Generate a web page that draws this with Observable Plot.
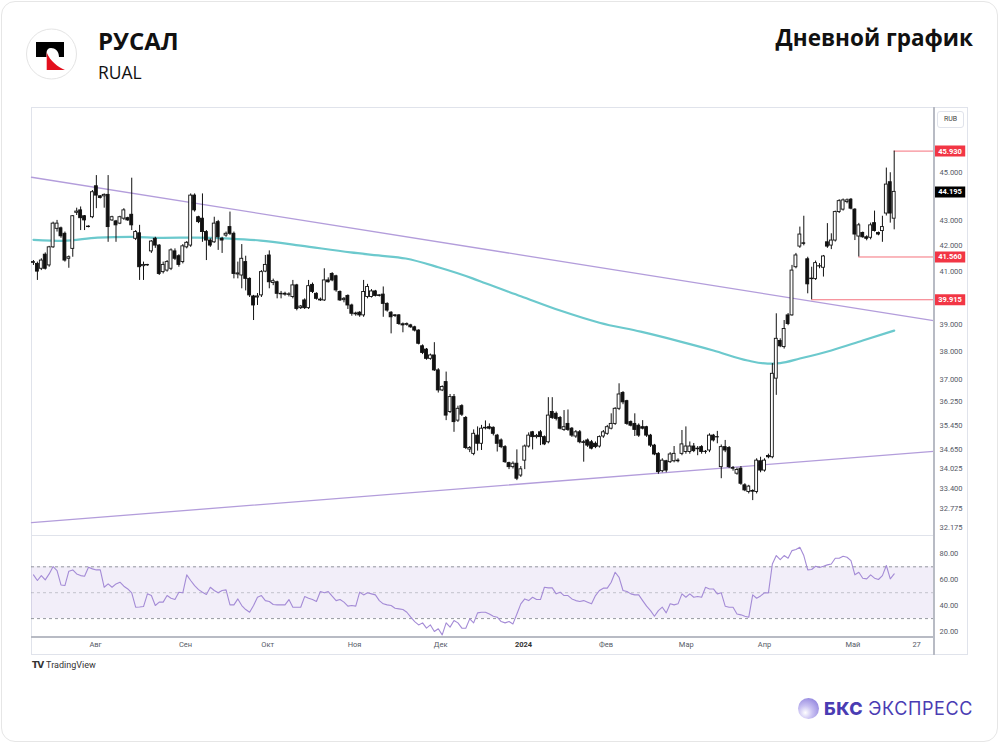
<!DOCTYPE html>
<html><head><meta charset="utf-8">
<script src="https://cdn.jsdelivr.net/npm/d3@7"></script>
<script src="https://cdn.jsdelivr.net/npm/@observablehq/plot@0.6"></script>
<style>
html,body{margin:0;padding:0;background:#fff;}
body{width:1000px;height:744px;position:relative;overflow:hidden;font-family:"Open Sans",sans-serif;}
#card{position:absolute;left:1px;top:1px;width:997px;height:741px;border:1px solid #e6e6e6;border-radius:14px;box-sizing:border-box;}
.abs{position:absolute;}
#title{left:98px;top:25px;font-size:24px;font-weight:700;color:#111;line-height:32px;}
#ticker{left:98px;top:60px;font-size:17.5px;color:#111;line-height:24px;}
#right{right:27px;top:22px;font-size:22.5px;font-weight:700;color:#111;line-height:32px;}
#frame{left:31px;top:107px;width:937px;height:548px;border:1px solid #e0e3eb;box-sizing:border-box;}
#vsep{left:933px;top:107px;width:2px;height:548px;background:#b8bbc4;}
#hsep{left:31px;top:535px;width:904px;height:1px;background:#e0e3eb;}
#tsep{left:31px;top:636px;width:904px;height:2px;background:#b8bbc4;}
#rub{left:937px;top:111px;width:27px;height:17px;border:1px solid #e0e3eb;border-radius:3px;box-sizing:border-box;font:7px Roboto,sans-serif;color:#444;text-align:center;line-height:15px;}
#tv{left:32px;top:659px;font:9px Roboto,sans-serif;color:#333;line-height:12px;}
#tv b{font-family:"DejaVu Sans";font-weight:900;letter-spacing:-1px;margin-right:3px;font-size:9px;}
#bks{left:798px;top:694px;height:28px;display:flex;align-items:center;}
#bks .ball{width:21px;height:21px;border-radius:50%;background:radial-gradient(circle at 35% 70%,#ffffff 0%,#c9c1f2 35%,#7c6ed6 100%);margin-right:5px;}
#bks .t{font-family:Inter,sans-serif;font-size:18px;color:#4a3cb3;letter-spacing:0.6px;}
#bks .t b{font-weight:800;margin-right:5px;}
#main,#rsi{position:absolute;left:31px;}
#main{top:107px;} #rsi{top:536px;}
</style></head>
<body>
<div id="card"></div>
<svg class="abs" style="left:25px;top:28px" width="54" height="54" viewBox="25 28 54 54">
  <circle cx="51.5" cy="54" r="25" fill="#fff" stroke="#e4e4e4" stroke-width="1"/>
  <path d="M36,42 H64 V57 H59 C59,51 55,48 51,48 C48,48 46.5,50 46.5,53 V57 H36 Z" fill="#000"/>
  <path d="M46.7,52.5 V70 H65 C58,67 50,61 46.7,52.5 Z" fill="#e3101e"/>
</svg>
<div id="title" class="abs">РУСАЛ</div>
<div id="ticker" class="abs">RUAL</div>
<div id="right" class="abs">Дневной график</div>
<div id="frame" class="abs"></div>
<div id="main"></div>
<div id="rsi"></div>
<div id="hsep" class="abs"></div>
<div id="tsep" class="abs"></div>
<div id="vsep" class="abs"></div>
<div id="rub" class="abs">RUB</div>
<div id="tv" class="abs"><b>TV</b>TradingView</div>
<div id="bks" class="abs"><div class="ball"></div><div class="t"><b>БКС</b>ЭКСПРЕСС</div></div>
<script>
// ---------- DATA ----------
const opens = [
41.33,41.29,41.10,41.65,41.23,41.94,42.68,42.70,42.48,41.49,
41.88,43.33,43.43,43.19,42.77,43.15,44.43,44.01,44.01,44.07,
43.02,42.98,42.89,43.09,43.11,43.25,42.28,42.50,41.20,41.25,
41.78,42.28,42.01,40.97,41.03,41.10,41.78,41.59,41.36,41.94,
42.01,44.04,43.15,43.09,42.55,42.21,42.14,42.95,42.28,42.41,
42.75,42.48,40.88,40.84,41.36,40.71,40.04,40.00,40.08,40.99,
41.62,40.55,40.58,40.12,40.14,40.10,40.02,40.46,39.60,39.89,
39.60,40.48,40.14,39.92,39.89,40.65,40.90,40.81,40.21,39.90,
40.06,39.70,39.37,39.43,39.33,40.02,40.02,40.23,40.08,40.11,
39.76,39.43,39.33,39.33,39.00,38.98,38.96,38.89,38.77,38.20,
38.08,37.75,37.87,37.34,36.64,36.93,35.90,36.41,35.61,36.10,
35.70,34.65,34.51,35.11,34.84,35.35,35.39,35.37,35.11,34.95,
34.73,34.21,34.08,34.19,33.81,34.29,34.75,35.22,35.06,35.22,
35.06,34.89,35.90,35.84,35.70,35.30,35.50,35.34,35.08,35.22,
34.89,34.95,34.89,34.84,34.75,35.08,35.17,35.34,35.50,36.01,
36.55,36.27,35.56,35.50,35.44,35.39,35.39,35.11,34.78,34.51,
33.95,34.27,34.24,34.27,34.29,34.51,34.57,34.57,34.75,34.68,
34.73,34.58,34.62,35.11,35.06,34.08,34.73,34.70,34.05,33.87,
34.03,33.50,33.29,33.32,33.29,34.27,33.97,34.44,34.40,37.05,
38.39,38.17,39.33,39.33,41.16,41.97,42.10,41.47,40.70,40.70,
41.19,41.14,42.14,42.01,42.21,43.36,43.46,43.77,43.87,43.46,
42.37,42.51,42.34,42.32,42.91,42.51,42.59,43.30,44.60,43.09];
const highs = [
41.42,41.36,41.49,41.72,41.98,42.95,43.02,42.75,42.55,41.60,
43.22,43.52,43.57,43.22,42.80,44.25,44.88,44.04,44.11,44.88,
43.19,43.02,43.19,43.50,43.15,44.77,42.61,42.82,41.36,41.27,
42.21,42.34,42.05,41.36,41.42,41.88,41.88,41.65,42.05,42.17,
44.11,44.11,43.19,44.11,42.61,42.28,43.15,43.02,42.34,42.55,
43.36,42.55,41.36,42.05,41.59,40.75,40.08,40.15,41.03,41.62,
41.80,40.70,40.62,40.23,40.20,40.18,40.65,40.50,39.70,39.95,
40.65,40.55,40.18,39.98,41.10,40.75,40.95,40.85,40.25,40.00,
40.10,39.75,39.45,39.47,40.65,40.50,40.30,40.27,40.10,40.40,
39.80,39.47,39.36,39.36,39.05,39.05,39.00,38.93,38.80,38.25,
38.12,37.92,38.33,37.40,36.80,37.28,36.50,36.50,36.10,36.15,
35.75,34.75,35.30,35.40,35.45,35.60,35.50,35.40,35.15,35.00,
34.78,34.24,34.25,34.64,34.10,34.80,35.20,35.25,35.15,35.28,
35.10,36.39,36.39,35.90,35.75,35.95,35.97,35.38,35.28,35.28,
34.95,35.00,34.95,34.90,35.10,35.28,35.45,35.84,36.05,36.87,
36.60,36.30,35.60,35.84,35.50,35.61,35.42,35.15,34.82,34.55,
34.35,34.30,34.55,34.75,34.35,35.28,35.40,34.90,34.85,34.75,
34.78,34.62,35.17,35.15,35.25,34.80,34.95,34.75,34.10,34.05,
34.10,33.55,33.50,33.36,34.35,34.40,34.35,34.50,37.58,39.39,
38.47,39.14,39.40,41.23,41.70,42.75,43.19,41.55,41.16,41.40,
41.30,41.62,42.89,42.48,43.40,43.87,43.90,43.90,43.92,43.50,
42.90,42.55,42.40,42.91,43.40,42.55,43.19,45.20,45.00,45.93];
const lows = [
41.23,40.65,41.03,41.05,41.16,41.90,42.55,42.30,41.36,41.12,
41.55,43.22,42.61,42.61,42.72,43.09,43.50,43.90,43.52,42.14,
42.98,42.14,42.85,43.02,42.98,42.61,42.21,40.65,40.65,41.20,
41.70,41.90,40.84,40.90,40.97,41.03,41.42,41.16,41.29,41.88,
41.94,43.36,42.89,42.14,41.42,41.94,42.10,41.82,41.70,42.34,
42.41,40.71,40.71,40.33,40.25,40.00,39.14,39.70,40.00,40.95,
40.33,40.45,39.95,39.95,40.05,40.02,39.95,39.50,39.55,39.55,
39.55,40.15,39.90,39.85,39.85,40.55,40.60,40.20,39.85,39.80,
39.55,39.30,39.30,39.26,39.26,39.95,39.98,40.02,40.02,39.26,
39.45,38.65,39.25,38.96,38.69,38.93,38.85,38.72,38.25,37.90,
37.70,37.70,37.30,36.55,36.60,35.61,35.85,35.22,35.55,35.75,
34.65,34.55,34.45,34.60,34.62,35.30,35.30,35.10,34.57,34.68,
34.20,34.00,34.02,33.65,33.75,34.00,34.70,34.64,35.00,34.78,
34.78,34.84,35.65,35.60,35.30,35.25,35.25,35.05,35.02,34.84,
34.24,34.72,34.64,34.68,34.70,35.02,35.12,35.30,35.45,35.95,
36.15,35.45,35.40,35.08,35.05,35.30,35.05,34.72,34.45,33.85,
33.90,33.90,34.20,34.22,34.22,34.45,34.50,34.50,34.55,34.45,
34.50,34.50,34.55,34.90,34.84,33.71,34.55,34.03,33.95,33.82,
33.50,33.30,33.23,33.02,33.23,33.90,33.92,34.35,34.35,36.47,
38.15,38.10,38.95,39.30,41.10,41.90,42.00,40.14,39.915,40.65,
41.10,40.78,41.90,41.85,42.15,43.30,43.40,43.70,43.45,42.21,
41.56,42.30,42.20,42.24,42.55,42.40,42.14,43.20,42.91,42.64];
const closes = [
41.36,40.99,41.42,41.10,41.94,42.89,42.89,42.38,41.42,41.55,
43.19,43.38,43.11,43.02,42.75,44.18,44.04,43.94,44.07,42.75,
43.15,42.82,43.15,43.43,43.02,42.82,42.55,41.16,41.25,41.23,
42.17,42.01,40.90,41.25,41.36,41.82,41.49,41.25,41.98,42.12,
44.04,43.43,42.95,42.55,42.21,42.01,42.89,42.34,42.21,42.48,
42.48,40.90,40.92,41.49,40.71,40.08,39.70,40.04,40.97,41.25,
40.58,40.62,40.14,40.14,40.11,40.12,40.46,39.57,39.66,39.60,
40.43,40.21,39.95,39.89,40.65,40.58,40.65,40.27,39.89,39.95,
39.70,39.39,39.40,39.33,40.21,40.40,40.23,40.06,40.06,39.76,
39.51,39.26,39.31,39.01,38.96,39.01,38.89,38.77,38.29,37.96,
37.75,37.87,37.34,36.64,36.76,35.78,36.41,35.56,36.01,35.81,
34.70,34.70,35.17,34.84,35.34,35.37,35.34,35.17,34.84,34.73,
34.24,34.08,34.19,33.71,34.01,34.75,35.11,35.06,35.10,35.06,
34.82,35.78,35.70,35.67,35.34,35.39,35.30,35.11,35.22,34.89,
34.87,34.78,34.68,34.73,35.06,35.22,35.39,35.50,36.01,36.50,
36.23,35.50,35.44,35.30,35.11,35.34,35.11,34.78,34.49,33.92,
34.29,33.97,34.49,34.51,34.27,34.82,34.75,34.75,34.60,34.66,
34.57,34.57,35.11,34.95,35.05,34.73,34.62,34.08,34.03,33.99,
33.55,33.34,33.46,33.30,34.29,33.97,34.29,34.40,37.22,38.47,
38.20,38.83,39.01,41.03,41.62,42.45,42.08,40.50,40.72,41.32,
41.20,41.58,41.97,42.21,43.36,43.81,43.84,43.84,43.50,42.45,
42.82,42.34,42.28,42.82,42.59,42.45,42.75,44.50,43.30,44.195];

// moving average (read at sample bars)
const smaIdx = [1,8.6,17.3,25.7,34,42.7,51,58.8,69,81.7,88.8,95.7,104,112.7,116,125,135,145,155.5,165.6,174,182.7,187.8,191,196,204,212,220];
const smaVal = [42.24,42.20,42.33,42.36,42.32,42.33,42.29,42.21,42.01,41.74,41.62,41.50,41.16,40.73,40.54,40.05,39.51,39.06,38.73,38.37,38.05,37.69,37.58,37.60,37.76,38.05,38.41,38.77];

// trend lines (bar index, price)
const trendIdx = [0.5, 230];
const upperTrend = [44.81, 39.14];
const lowerTrend = [32.34, 34.59];

// horizontal levels
const levelValues = [45.93, 41.56, 39.915];
const levelStart = [220, 211, 199];

// RSI
const rsiValues = [
63.8,59.4,63.2,59.9,64.5,70.2,67.1,56.0,55.5,66.6,
67.6,64.5,63.2,62.7,69.7,68.4,67.6,67.6,54.2,56.8,
54.2,56.8,58.1,55.0,52.9,49.9,38.8,39.0,39.3,49.1,
47.8,40.1,42.7,42.7,47.8,45.7,44.7,50.4,49.9,63.8,
59.4,55.5,52.4,50.4,48.6,54.2,51.7,49.9,51.7,52.2,
40.6,40.6,45.2,40.1,37.0,34.9,40.1,46.5,47.8,43.9,
43.2,40.9,40.6,40.6,40.6,44.7,38.8,38.8,38.8,47.0,
45.7,44.7,43.2,50.9,49.9,50.9,47.3,43.9,44.7,42.7,
39.6,40.1,39.6,50.4,48.3,49.9,49.1,48.3,43.9,41.4,
40.6,40.1,38.0,37.5,37.0,34.9,31.1,27.7,25.1,26.7,
22.6,25.1,20.0,22.1,17.4,26.7,23.4,28.5,26.7,22.6,
22.6,29.8,26.7,34.4,34.9,34.9,33.6,31.8,31.1,27.7,
26.7,27.7,25.9,33.6,41.4,45.2,43.9,46.5,44.7,44.7,
54.2,53.7,53.7,49.1,50.4,47.8,47.8,45.2,43.9,43.2,
43.9,42.7,41.4,47.8,51.7,53.5,53.5,58.1,65.8,61.9,
51.7,50.9,49.1,48.3,48.3,43.9,39.6,36.2,31.8,36.2,
38.8,34.4,41.4,40.6,41.4,49.1,46.5,49.1,46.5,47.0,
46.5,54.2,52.9,52.9,49.1,49.9,39.6,38.8,38.8,33.6,
32.9,31.8,31.1,48.3,45.7,47.5,49.9,49.9,72.2,78.7,
75.6,78.7,76.6,82.5,83.3,85.1,78.7,67.6,67.9,70.4,
69.4,70.4,71.5,72.2,76.6,76.6,78.2,77.4,74.8,63.8,
65.8,61.2,60.7,63.8,61.2,60.2,63.2,71.0,60.7,64.5];
const rsiLevels = [30, 50, 70];

// axes (44.000 and 40.000 sit under the price badges, so they are not listed)
const priceTicks = [32.175,32.775,33.4,34.025,34.65,35.45,36.25,37,38,39,41,42,43,45];
const rsiTicks = [20,40,60,80];
const monthIdx = [16.8,39.7,60.6,82.7,104.6,125.7,146.7,167.1,187,209.5,225.7];
const monthLabels = ["Авг","Сен","Окт","Ноя","Дек","2024","Фев","Мар","Апр","Май","27"];

// ---------- BUILD ----------
const candles = opens.map((o,j)=>({i:j+1,o,h:highs[j],l:lows[j],c:closes[j],up:closes[j]>=o}));
const sma = smaIdx.map((i,j)=>({i,v:smaVal[j]}));
const trends = [
  ...trendIdx.map((i,j)=>({i,v:upperTrend[j],k:"u"})),
  ...trendIdx.map((i,j)=>({i,v:lowerTrend[j],k:"l"}))];
const levels = levelValues.map((v,j)=>({v,from:levelStart[j]}));
const badges = [...levelValues.map(v=>({v,fill:"#f23645"})),{v:closes[closes.length-1],fill:"#000000"}];
const xDomain = [0.5, 230];
const xEnd = xDomain[1];
const ink = "#111111";
const axisFont = "Roboto, sans-serif";

const main = Plot.plot({
  width:937, height:428, marginLeft:0, marginRight:35, marginTop:0, marginBottom:0,
  style:{background:"transparent", fontFamily:axisFont, overflow:"visible"},
  x:{domain:xDomain, axis:null},
  y:{type:"log", domain:[31.95, 47.86], axis:null},
  marks:[
    Plot.axisY(priceTicks,{anchor:"right", tickSize:0, tickPadding:6, tickFormat:d=>d.toFixed(3), fontSize:7.5, fill:"#555a66", label:null}),
    Plot.line(trends,{x:"i", y:"v", z:"k", stroke:"#b39ddb", strokeWidth:1.3}),
    Plot.line(sma,{x:"i", y:"v", stroke:"#6cc9cd", strokeWidth:2.2, curve:"monotone-x"}),
    Plot.ruleY(levels,{y:"v", x1:"from", x2:xEnd, stroke:"#f5717c", strokeWidth:1}),
    Plot.ruleX(candles,{x:"i", y1:"l", y2:"h", stroke:ink, strokeWidth:1}),
    Plot.rect(candles,{x1:d=>d.i-0.37, x2:d=>d.i+0.37, y1:"o", y2:"c", fill:d=>d.up?"#ffffff":ink, stroke:ink, strokeWidth:0.9}),
    Plot.ruleY(badges,{y:"v", x1:xEnd+0.25, x2:xEnd+8.2, stroke:"fill", strokeWidth:11}),
    Plot.text(badges,{y:"v", x:xEnd+4.2, text:d=>d.v.toFixed(3), fill:"#ffffff", fontSize:7.5, fontWeight:700})
  ]
});
document.getElementById("main").appendChild(main);

const rsiData = rsiValues.map((v,j)=>({i:j+1,v}));
const months = monthIdx.map((i,j)=>({i,label:monthLabels[j]}));
const rsi = Plot.plot({
  width:937, height:118, marginLeft:0, marginRight:35, marginTop:0, marginBottom:17,
  style:{background:"transparent", fontFamily:axisFont, overflow:"visible"},
  x:{domain:xDomain, axis:null},
  y:{domain:[15.4, 93.4], axis:null},
  marks:[
    Plot.rectY([rsiLevels],{x1:xDomain[0], x2:xEnd, y1:d=>d[0], y2:d=>d[2], fill:"#7e57c2", fillOpacity:0.1}),
    Plot.ruleY(rsiLevels,{x1:xDomain[0], x2:xEnd, stroke:"#8a8d96", strokeDasharray:"3,3", strokeOpacity:d=>d===50?0.45:0.9}),
    Plot.line(rsiData,{x:"i", y:"v", stroke:"#a48bd6", strokeWidth:1.1}),
    Plot.axisY(rsiTicks,{anchor:"right", tickSize:0, tickPadding:6, tickFormat:d=>d.toFixed(2), fontSize:7.5, fill:"#555a66", label:null}),
    Plot.text(months.filter(d=>d.label!=="2024"),{x:"i", frameAnchor:"bottom", dy:9, text:"label", fontSize:7.5, fill:"#555a66"}),
    Plot.text(months.filter(d=>d.label==="2024"),{x:"i", frameAnchor:"bottom", dy:9, text:"label", fontSize:7.5, fill:"#333", fontWeight:700})
  ]
});
document.getElementById("rsi").appendChild(rsi);
</script>
</body></html>
